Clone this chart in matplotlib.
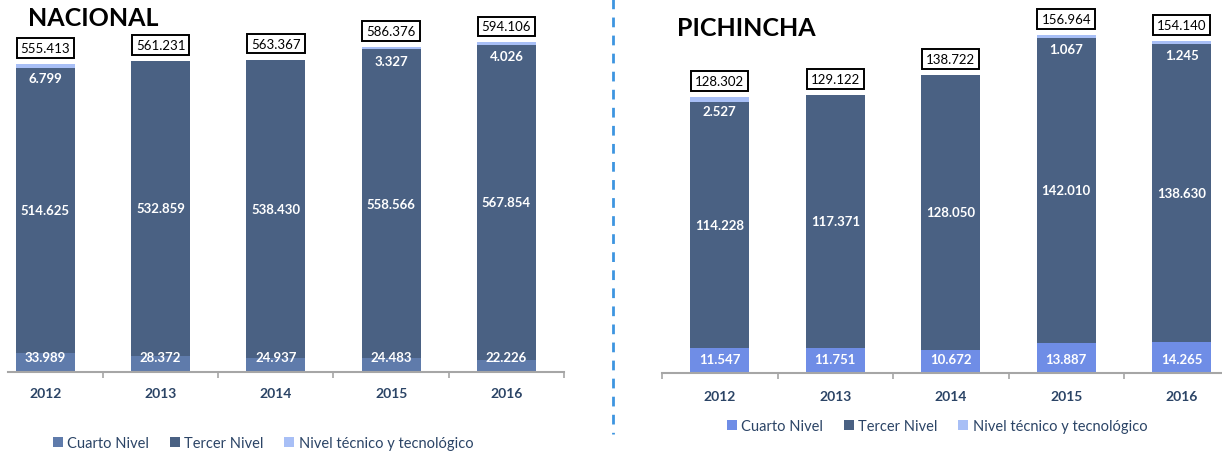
import numpy as np
from matplotlib import pyplot as plt
from matplotlib.patches import Patch
from matplotlib.lines import Line2D

years = ['2012', '2013', '2014', '2015', '2016']

# NACIONAL
nac_cuarto = [33989, 28372, 24937, 24483, 22226]
nac_tercer = [514625, 532859, 538430, 558566, 567854]
nac_tecnico = [6799, 0, 0, 3327, 4026]
nac_total = ['555.413', '561.231', '563.367', '586.376', '594.106']
nac_cuarto_lbl = ['33.989', '28.372', '24.937', '24.483', '22.226']
nac_tercer_lbl = ['514.625', '532.859', '538.430', '558.566', '567.854']
nac_tecnico_lbl = ['6.799', '', '', '3.327', '4.026']

# PICHINCHA
pic_cuarto = [11547, 11751, 10672, 13887, 14265]
pic_tercer = [114228, 117371, 128050, 142010, 138630]
pic_tecnico = [2527, 0, 0, 1067, 1245]
pic_total = ['128.302', '129.122', '138.722', '156.964', '154.140']
pic_cuarto_lbl = ['11.547', '11.751', '10.672', '13.887', '14.265']
pic_tercer_lbl = ['114.228', '117.371', '128.050', '142.010', '138.630']
pic_tecnico_lbl = ['2.527', '', '', '1.067', '1.245']

plt.rcParams['font.family'] = ['Lato', 'DejaVu Sans']

W, H = 1222, 452
fig = plt.figure(figsize=(W / 100, H / 100), dpi=100)

tercer_color = '#4a6183'
tec_color = '#a8bff6'
text_blue = '#2b4466'
axis_gray = '#a6a6a6'
PT = 72 / 100  # points per pixel


def px_axes(x0, x1, y_base):
    return fig.add_axes([x0 / W, (H - y_base) / H, (x1 - x0) / W, y_base / H])


def draw(ax, cuarto, tercer, tecnico, totals, c_lbl, t_lbl, k_lbl,
         cuarto_color, ymax, xmin, tick_pad, cuarto_off):
    x = np.arange(len(years))
    cuarto = np.array(cuarto)
    tercer = np.array(tercer)
    tecnico = np.array(tecnico)
    w = 0.51
    ax.bar(x, cuarto, w, color=cuarto_color, edgecolor='none')
    ax.bar(x, tercer, w, bottom=cuarto, color=tercer_color, edgecolor='none')
    ax.bar(x, tecnico, w, bottom=cuarto + tercer, color=tec_color, edgecolor='none')
    top = cuarto + tercer + tecnico
    for i in range(len(x)):
        ax.annotate(c_lbl[i], (x[i], 0), xytext=(0, cuarto_off * PT),
                    textcoords='offset points', ha='center', va='center',
                    color='white', fontsize=9.5, fontweight='bold')
        ax.text(x[i], cuarto[i] + tercer[i] / 2, t_lbl[i], ha='center', va='center',
                color='white', fontsize=9.5, fontweight='bold')
        if k_lbl[i]:
            ax.annotate(k_lbl[i], (x[i], top[i]), xytext=(0, -14 * PT),
                        textcoords='offset points', ha='center', va='center',
                        color='white', fontsize=9.5, fontweight='bold')
        ax.annotate(totals[i], (x[i], top[i]), xytext=(0, 16 * PT),
                    textcoords='offset points', ha='center', va='center',
                    color='black', fontsize=9.5,
                    bbox=dict(boxstyle='square,pad=0.3', fc='white', ec='black', lw=1.4))
    for s in ['top', 'right', 'left']:
        ax.spines[s].set_visible(False)
    ax.spines['bottom'].set_color(axis_gray)
    ax.spines['bottom'].set_linewidth(1.5)
    ax.set_yticks([])
    ax.set_xticks(x)
    ax.set_xticklabels(years, fontsize=10, fontweight='bold', color=text_blue)
    ax.tick_params(axis='x', which='major', length=0, pad=tick_pad)
    ax.set_xticks(np.arange(-0.5, 5.0, 1.0), minor=True)
    ax.tick_params(axis='x', which='minor', length=4.5, width=1.2, color=axis_gray,
                   direction='out')
    ax.set_xlim(xmin, 4.5)
    ax.set_ylim(0, ymax)
    ax.patch.set_alpha(0)


ax1 = px_axes(8, 564, 373)
draw(ax1, nac_cuarto, nac_tercer, nac_tecnico, nac_total,
     nac_cuarto_lbl, nac_tercer_lbl, nac_tecnico_lbl,
     '#5f7bab', 373 * 1803, -0.324, 11, 14.5)

ax2 = px_axes(662, 1239.5, 374)
draw(ax2, pic_cuarto, pic_tercer, pic_tecnico, pic_total,
     pic_cuarto_lbl, pic_tercer_lbl, pic_tecnico_lbl,
     '#6f8de6', 374 * 464.9, -0.5, 12, 13.5)

# titles
fig.text(28 / W, 1 - 7 / H, 'NACIONAL', fontsize=18, fontweight='bold',
         ha='left', va='top', color='black')
fig.text(677 / W, 1 - 17 / H, 'PICHINCHA', fontsize=18, fontweight='bold',
         ha='left', va='top', color='black')

# separator
fig.add_artist(Line2D([613 / W, 613 / W], [1, 1 - 435 / H], transform=fig.transFigure,
                      color='#3d95e0', lw=2, linestyle=(0, (3.5, 3))))

labels = ['Cuarto Nivel', 'Tercer Nivel', 'Nivel técnico y tecnológico']


def legend(colors, cx, cy):
    handles = [Patch(facecolor=c, edgecolor='none') for c in colors]
    lg = fig.legend(handles, labels, loc='center', bbox_to_anchor=(cx / W, 1 - cy / H),
                    ncol=3, frameon=False, fontsize=10.5, handlelength=0.7,
                    handleheight=0.7, handletextpad=0.3, columnspacing=1.4)
    for t in lg.get_texts():
        t.set_color(text_blue)


legend(['#5f7bab', tercer_color, tec_color], 263, 444)
legend(['#6f8de6', tercer_color, tec_color], 937, 427)

fig.savefig('out.png', dpi=100)
